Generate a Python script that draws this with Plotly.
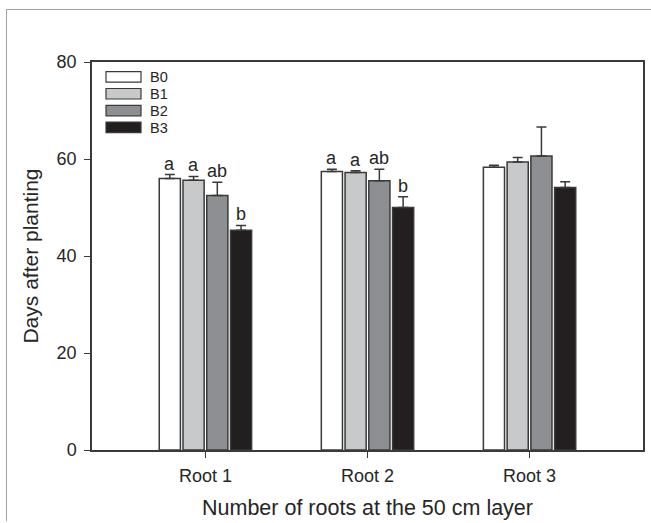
import plotly.graph_objects as go

categories = ["Root 1", "Root 2", "Root 3"]
series_names = ["B0", "B1", "B2", "B3"]
values = {
    "B0": [56.0, 57.4, 58.3],
    "B1": [55.6, 57.2, 59.4],
    "B2": [52.5, 55.5, 60.6],
    "B3": [45.3, 50.0, 54.1],
}
errors = {
    "B0": [0.8, 0.5, 0.4],
    "B1": [0.8, 0.4, 0.9],
    "B2": [2.7, 2.4, 6.0],
    "B3": [1.0, 2.2, 1.2],
}
letters = {
    "B0": ["a", "a", ""],
    "B1": ["a", "a", ""],
    "B2": ["ab", "ab", ""],
    "B3": ["b", "b", ""],
}
colors = {"B0": "#ffffff", "B1": "#c8c9cb", "B2": "#8e8f92", "B3": "#231f20"}
y_ticks = [0, 20, 40, 60, 80]
x_title = "Number of roots at the 50 cm layer"
y_title = "Days after planting"

W, H = 651, 523
L, R, T, B = 92, 8, 62, 73
pw, ph = W - L - R, H - T - B
FONT = "Liberation Sans, Arial"
TXT = "#262626"

xpos = list(range(len(categories)))
fig = go.Figure()
for s in series_names:
    fig.add_trace(go.Bar(
        x=xpos, y=values[s], name=s,
        marker=dict(color=colors[s], line=dict(color="#3a3a3a", width=1.5)),
        error_y=dict(type="data", symmetric=False, array=errors[s],
                     arrayminus=[0] * len(categories),
                     color="#3a3a3a", thickness=1.5, width=5),
        showlegend=False,
    ))

# significance letters
nser = len(series_names)
group_w = 0.586
slot = group_w / nser
for i, s in enumerate(series_names):
    off = -group_w / 2 + slot * (i + 0.5)
    for j, c in enumerate(categories):
        if letters[s][j]:
            fig.add_annotation(x=xpos[j] + off, y=values[s][j] + errors[s][j],
                               text=letters[s][j], showarrow=False,
                               yanchor="bottom", yshift=-1,
                               font=dict(size=18, color=TXT, family=FONT))

# manual legend
def px2x(px):
    return (px - L) / pw

def py2y(py):
    return (H - B - py) / ph

for i, s in enumerate(series_names):
    y0 = 71.7 + i * 16.8
    fig.add_shape(type="rect", xref="paper", yref="paper",
                  x0=px2x(106), x1=px2x(141), y0=py2y(y0 + 10.5), y1=py2y(y0),
                  fillcolor=colors[s], line=dict(color="#3a3a3a", width=1.2))
    fig.add_annotation(xref="paper", yref="paper", x=px2x(148), y=py2y(y0 + 5.5),
                       text=s, showarrow=False, xanchor="left", yanchor="middle",
                       font=dict(size=14.5, color=TXT, family=FONT))

# outer frame lines (top and left)
fig.add_shape(type="line", xref="paper", yref="paper",
              x0=px2x(6.5), x1=px2x(651), y0=py2y(9.5), y1=py2y(9.5),
              line=dict(color="#a0a0a0", width=1))
fig.add_shape(type="line", xref="paper", yref="paper",
              x0=px2x(6.5), x1=px2x(6.5), y0=py2y(9.5), y1=py2y(521),
              line=dict(color="#a0a0a0", width=1))

fig.update_layout(
    width=W, height=H,
    margin=dict(l=L, r=R, t=T, b=B, pad=0, autoexpand=False),
    paper_bgcolor="white", plot_bgcolor="white",
    barmode="group", bargap=0.414, bargroupgap=0.11,
    font=dict(family=FONT, color=TXT),
)
fig.update_xaxes(
    range=[-0.70, 2.70], tickmode="array", tickvals=xpos, ticktext=categories,
    ticks="outside", ticklen=6, tickwidth=1.2, tickcolor="#3a3a3a",
    showline=True, linecolor="#3a3a3a", linewidth=1.5, mirror=True,
    showgrid=False, zeroline=False, ticklabelstandoff=3, automargin=False,
    tickfont=dict(size=18),
    title=dict(text=x_title, font=dict(size=21.5), standoff=15),
)
fig.update_yaxes(
    range=[0, 80], tickmode="array", tickvals=y_ticks,
    ticks="outside", ticklen=6, tickwidth=1.2, tickcolor="#3a3a3a",
    showline=True, linecolor="#3a3a3a", linewidth=1.5, mirror=True,
    showgrid=False, zeroline=False, ticklabelstandoff=4, automargin=False,
    tickfont=dict(size=18),
    title=dict(text=y_title, font=dict(size=21), standoff=12),
)

fig.write_html("out.html")
